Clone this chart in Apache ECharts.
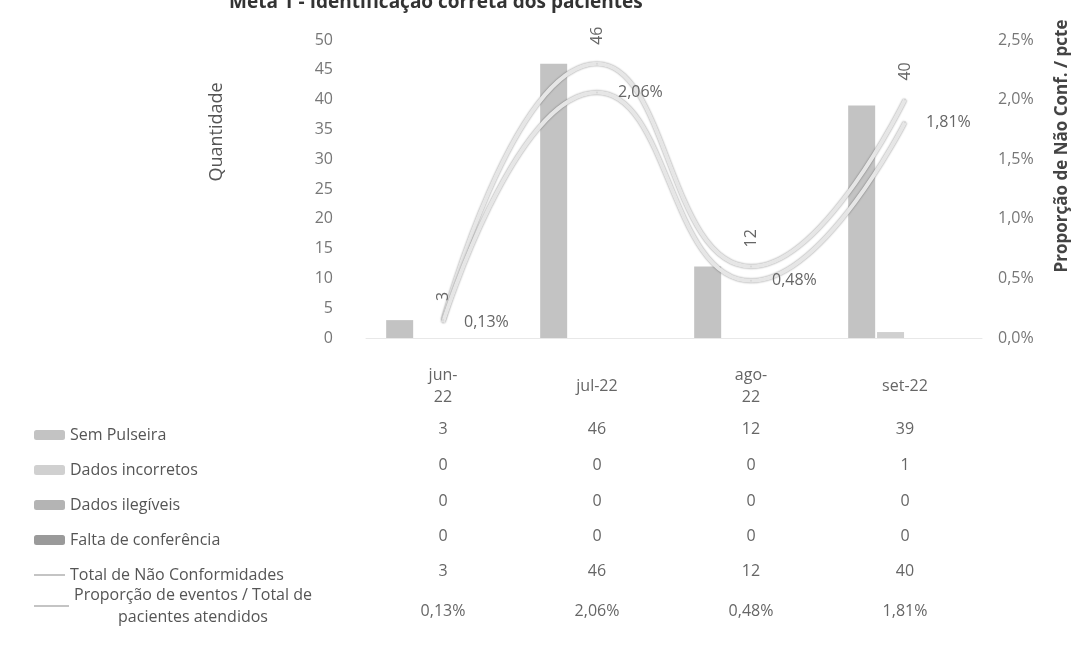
<!DOCTYPE html>
<html>
<head>
<meta charset="utf-8">
<script src="https://cdn.jsdelivr.net/npm/echarts@6/dist/echarts.min.js"></script>
<style>
    html, body { margin: 0; padding: 0; background: #fff; }
    #myChart { width: 1077px; height: 647px; }
</style>
</head>
<body>
<div id="myChart"></div>
<script>
// dados
var categories = ['jun-22', 'jul-22', 'ago-22', 'set-22'];
var categoryLabels = ['jun-\n22', 'jul-22', 'ago-\n22', 'set-22'];
var semPulseira = [3, 46, 12, 39];
var dadosIncorretos = [0, 0, 0, 1];
var dadosIlegiveis = [0, 0, 0, 0];
var faltaConferencia = [0, 0, 0, 0];
var totalNaoConf = [3, 46, 12, 40];
var proporcao = [0.13, 2.06, 0.48, 1.81];

var FONT = '"Open Sans", sans-serif';
var GRID_BOTTOM_Y = 338;

function pct(v, d) {
    return v.toFixed(d).replace('.', ',') + '%';
}

function create_image() {
    var myChart = echarts.init(document.getElementById('myChart'));

    var barNames = ['Sem Pulseira', 'Dados incorretos', 'Dados ilegíveis', 'Falta de conferência'];
    var barData = [semPulseira, dadosIncorretos, dadosIlegiveis, faltaConferencia];
    var barColors = ['#c3c3c3', '#d0d0d0', '#b4b4b4', '#9a9a9a'];
    var lineNames = ['Total de Não Conformidades', 'Proporção de eventos / Total de pacientes atendidos'];

    // linhas da tabela de dados, cada uma desenhada como um eixo x extra
    var tableRows = [
        semPulseira.map(String),
        dadosIncorretos.map(String),
        dadosIlegiveis.map(String),
        faltaConferencia.map(String),
        totalNaoConf.map(String),
        proporcao.map(function (v) { return pct(v, 2); })
    ];
    var rowY = [429, 465, 501, 536, 571, 611];

    var xAxes = [{
        type: 'category',
        data: categories,
        axisLine: { show: true, lineStyle: { color: '#e8e8e8' } },
        axisTick: { show: false },
        axisLabel: {
            margin: 386 - GRID_BOTTOM_Y,
            verticalAlign: 'middle',
            lineHeight: 22,
            color: '#666',
            fontFamily: FONT,
            fontSize: 16,
            formatter: function (v, i) { return categoryLabels[i]; }
        }
    }];
    for (var r = 0; r < tableRows.length; r++) {
        (function (row, y) {
            xAxes.push({
                type: 'category',
                data: categories,
                position: 'bottom',
                offset: y - GRID_BOTTOM_Y,
                axisLine: { show: false },
                axisTick: { show: false },
                axisLabel: {
                    margin: 0,
                    verticalAlign: 'middle',
                    color: '#666',
                    fontFamily: FONT,
                    fontSize: 16,
                    formatter: function (v, i) { return row[i]; }
                }
            });
        })(tableRows[r], rowY[r]);
    }

    var series = [];
    for (var i = 0; i < barNames.length; i++) {
        series.push({
            name: barNames[i],
            type: 'bar',
            barWidth: 27,
            barGap: '7%',
            itemStyle: { color: barColors[i] },
            data: barData[i]
        });
    }
    series.push({
        name: lineNames[0],
        type: 'line',
        smooth: 0.5,
        symbol: 'circle',
        symbolSize: 2,
        itemStyle: { color: '#d6d6d6' },
        lineStyle: { color: '#e6e6e6', width: 4, shadowColor: 'rgba(0,0,0,0.45)', shadowBlur: 2 },
        label: {
            show: true,
            position: 'top',
            rotate: 90,
            align: 'left',
            verticalAlign: 'middle',
            distance: 18,
            color: '#666',
            fontFamily: FONT,
            fontSize: 16
        },
        z: 3,
        data: totalNaoConf
    });
    series.push({
        name: lineNames[1],
        type: 'line',
        yAxisIndex: 1,
        smooth: 0.5,
        symbol: 'circle',
        symbolSize: 2,
        itemStyle: { color: '#d6d6d6' },
        lineStyle: { color: '#e6e6e6', width: 4, shadowColor: 'rgba(0,0,0,0.45)', shadowBlur: 2 },
        label: {
            show: true,
            position: 'right',
            distance: 20,
            color: '#666',
            fontFamily: FONT,
            fontSize: 16,
            formatter: function (p) { return pct(p.value, 2); }
        },
        z: 3,
        data: proporcao
    });

    var legendLine = { color: '#c4c4c4', width: 2, shadowBlur: 0 };
    var option = {
        animation: false,
        title: {
            text: 'Meta 1 - Identificação correta dos pacientes',
            left: 224,
            top: -12,
            textStyle: { color: '#333', fontFamily: FONT, fontSize: 19, fontWeight: 'bold' }
        },
        legend: [{
            orient: 'vertical',
            left: 28,
            top: 421,
            itemWidth: 31,
            itemHeight: 10,
            itemGap: 17,
            selectedMode: false,
            textStyle: { color: '#555', fontFamily: FONT, fontSize: 16, lineHeight: 18 },
            data: barNames.concat([{ name: lineNames[0], itemStyle: { opacity: 0 }, lineStyle: legendLine }])
        }, {
            orient: 'vertical',
            left: 28,
            top: 582,
            itemWidth: 35,
            itemHeight: 10,
            selectedMode: false,
            formatter: function () {
                return '{a|Proporção de eventos / Total de}\n{a|pacientes atendidos}';
            },
            textStyle: {
                color: '#555', fontFamily: FONT, fontSize: 16,
                rich: { a: { width: 238, align: 'center', color: '#555', fontFamily: FONT, fontSize: 16, lineHeight: 22 } }
            },
            data: [{ name: lineNames[1], itemStyle: { opacity: 0 }, lineStyle: legendLine }]
        }],
        grid: {
            left: 366,
            right: 95,
            top: 40,
            bottom: 647 - GRID_BOTTOM_Y,
            outerBoundsMode: 'none'
        },
        xAxis: xAxes,
        yAxis: [{
            type: 'value',
            min: 0,
            max: 50,
            interval: 5,
            name: 'Quantidade',
            nameLocation: 'middle',
            nameGap: 140,
            nameTextStyle: { color: '#555', fontFamily: FONT, fontSize: 18, padding: [0, 0, 0, 114] },
            axisLine: { show: false },
            axisTick: { show: false },
            splitLine: { show: false },
            axisLabel: { margin: 33, color: '#777', fontFamily: FONT, fontSize: 16 }
        }, {
            type: 'value',
            min: 0,
            max: 2.5,
            interval: 0.5,
            position: 'right',
            name: 'Proporção de Não Conf. / pcte',
            nameLocation: 'middle',
            nameRotate: 90,
            nameGap: 72,
            nameTextStyle: { color: '#444', fontFamily: FONT, fontSize: 17, fontWeight: 'bold', padding: [0, 0, 0, 86] },
            axisLine: { show: false },
            axisTick: { show: false },
            splitLine: { show: false },
            axisLabel: {
                margin: 16,
                color: '#777',
                fontFamily: FONT,
                fontSize: 16,
                formatter: function (v) { return pct(v, 1); }
            }
        }],
        series: series
    };
    myChart.setOption(option);
}

create_image();
</script>
</body>
</html>
